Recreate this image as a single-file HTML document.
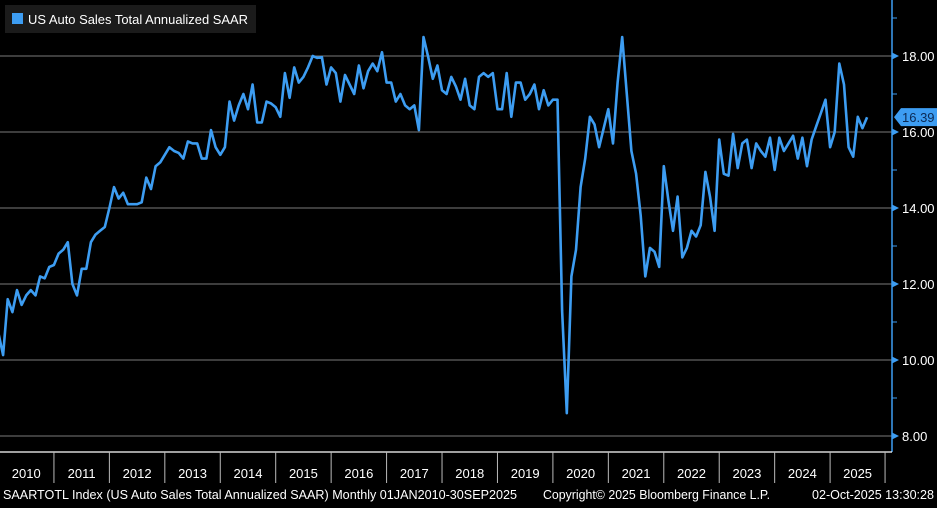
<!DOCTYPE html>
<html><head><meta charset="utf-8"><style>
html,body{margin:0;padding:0;background:#000;}
body{width:937px;height:503px;overflow:hidden;font-family:"Liberation Sans",sans-serif;}
svg text{font-family:"Liberation Sans",sans-serif;}
</style></head><body>
<svg id="chart" width="937" height="503" viewBox="0 0 937 503" xmlns="http://www.w3.org/2000/svg">
<rect x="0" y="0" width="937" height="503" fill="#000"/>
<g id="grid"></g>
<g id="yaxis"></g>
<g id="xaxis"></g>
<path id="line" fill="none" stroke="#3d9df2" stroke-width="2.6" stroke-linejoin="round"/>
<g>
<rect x="5" y="5" width="251" height="28" fill="#1b1b1b"/>
<rect x="12" y="13" width="11" height="11" fill="#3d9df2"/>
<text x="28" y="24" fill="#fff" font-size="13" textLength="220" lengthAdjust="spacingAndGlyphs">US Auto Sales Total Annualized SAAR</text>
</g>
<g id="callout"></g>
<text x="3" y="499" fill="#fff" font-size="12.5" textLength="514" lengthAdjust="spacingAndGlyphs">SAARTOTL Index (US Auto Sales Total Annualized SAAR) Monthly 01JAN2010-30SEP2025</text>
<text x="543" y="499" fill="#fff" font-size="12.5" textLength="227" lengthAdjust="spacingAndGlyphs">Copyright© 2025 Bloomberg Finance L.P.</text>
<text x="812" y="499" fill="#fff" font-size="12.5" textLength="122" lengthAdjust="spacingAndGlyphs">02-Oct-2025 13:30:28</text>
</svg>
<script>
const values = [
10.7,10.13,11.6,11.26,11.84,11.45,11.7,11.84,11.7,12.2,12.15,12.45,
12.5,12.8,12.9,13.1,12.0,11.7,12.4,12.4,13.1,13.3,13.4,13.5,
14.0,14.55,14.25,14.4,14.1,14.1,14.1,14.15,14.8,14.5,15.1,15.2,
15.4,15.6,15.5,15.45,15.3,15.75,15.7,15.7,15.3,15.3,16.05,15.6,
15.4,15.6,16.8,16.3,16.7,17.0,16.6,17.25,16.25,16.25,16.8,16.75,
16.65,16.4,17.55,16.9,17.7,17.3,17.45,17.7,18.0,17.95,17.97,17.25,
17.7,17.55,16.8,17.5,17.25,17.0,17.75,17.15,17.6,17.8,17.6,18.1,
17.3,17.3,16.8,17.0,16.7,16.6,16.7,16.05,18.5,17.97,17.4,17.75,
17.1,17.0,17.45,17.2,16.85,17.4,16.7,16.6,17.45,17.55,17.45,17.55,
16.6,16.6,17.55,16.4,17.3,17.3,16.85,17.0,17.25,16.6,17.1,16.7,
16.85,16.85,11.3,8.6,12.2,12.9,14.55,15.3,16.4,16.2,15.6,16.1,
16.6,15.7,17.3,18.5,17.0,15.5,14.9,13.8,12.2,12.95,12.85,12.45,
15.1,14.2,13.4,14.3,12.7,12.95,13.4,13.25,13.55,14.95,14.3,13.4,
15.8,14.9,14.85,15.95,15.05,15.7,15.8,15.05,15.7,15.5,15.35,15.85,
15.0,15.85,15.5,15.7,15.9,15.3,15.85,15.1,15.8,16.15,16.5,16.85,
15.6,16.0,17.8,17.25,15.6,15.35,16.4,16.1,16.39
];
const yTicks = [8,10,12,14,16,18];
const yTickLabels = ["8.00","10.00","12.00","14.00","16.00","18.00"];
const years = ["2010","2011","2012","2013","2014","2015","2016","2017","2018","2019","2020","2021","2022","2023","2024","2025"];
const lastLabel = "16.39";

const NS = "http://www.w3.org/2000/svg";
const AX = 892, BOT = 452;
function yS(v){ return 56 + (18 - v) * 38; }
function xS(m){ return -1.5 + m * 4.62; }
function mk(tag, attrs, parent){ const e = document.createElementNS(NS, tag); for (const k in attrs) e.setAttribute(k, attrs[k]); parent.appendChild(e); return e; }

const grid = document.getElementById('grid');
const yaxis = document.getElementById('yaxis');
const xaxis = document.getElementById('xaxis');

yTicks.forEach((t, i) => {
  const y = yS(t);
  const g = mk('line', {x1:0, x2:AX, y1:y, y2:y, stroke:'#7a7a7a', 'stroke-width':1}, grid);
  
  
  const tk = mk('path', {d:`M${AX} ${y-3.5} L${AX+7} ${y} L${AX} ${y+3.5} Z`, fill:'#3d9df2'}, yaxis);
  
  
  const lb = mk('text', {x:AX+10, y:y+5, fill:'#fff', 'font-size':13}, yaxis);
  lb.textContent = yTickLabels[i];
  
  
  if (t < 18) {
    const my = yS(t + 1);
    const mt = mk('line', {x1:AX, x2:AX+5, y1:my, y2:my, stroke:'#3d9df2', 'stroke-width':1}, yaxis);
    
    
  }
});
const tm = yS(19);
const topTick = mk('line', {x1:AX, x2:AX+5, y1:tm, y2:tm, stroke:'#3d9df2', 'stroke-width':1}, yaxis);


const axl = mk('line', {x1:AX, x2:AX, y1:0, y2:BOT, stroke:'#3d9df2', 'stroke-width':1.5}, yaxis);



const bl = mk('line', {x1:0, x2:AX, y1:BOT, y2:BOT, stroke:'#fff', 'stroke-width':1.2}, xaxis);


years.forEach((yr, i) => {
  const x0 = xS(i * 12), x1 = xS((i + 1) * 12);
  if (i > 0) {
    const d = mk('line', {x1:x0, x2:x0, y1:BOT, y2:483, stroke:'#bbb', 'stroke-width':1}, xaxis);
    
    
  }
  const cx = i === years.length - 1 ? (x0 + xS(188) + 18) / 2 : (x0 + x1) / 2;
  const t = mk('text', {x:cx, y:478, fill:'#fff', 'font-size':13, 'text-anchor':'middle'}, xaxis);
  t.textContent = yr;
  
  
});
const endD = mk('line', {x1:xS(188)+18, x2:xS(188)+18, y1:BOT, y2:483, stroke:'#bbb', 'stroke-width':1}, xaxis);



let d = '';
values.forEach((v, i) => { d += (i ? 'L' : 'M') + xS(i).toFixed(1) + ' ' + yS(v).toFixed(1); });
document.getElementById('line').setAttribute('d', d);

const callout = document.getElementById('callout');
const lv = values[values.length - 1], ly = yS(lv);
const cp = mk('path', {d:`M${AX+2} ${ly} L${AX+9} ${ly-9} L937 ${ly-9} L937 ${ly+9} L${AX+9} ${ly+9} Z`, fill:'#3d9df2'}, callout);


const ct = mk('text', {x:AX+10, y:ly+5, fill:'#0b2a55', 'font-size':13}, callout);
ct.textContent = lastLabel;


</script>
</body></html>
